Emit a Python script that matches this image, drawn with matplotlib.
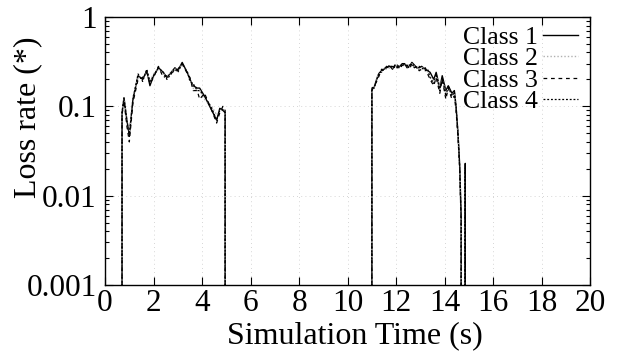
import matplotlib
matplotlib.use("Agg")
import matplotlib.pyplot as plt
from matplotlib.ticker import LogLocator, NullFormatter, FixedLocator

plt.rcParams['font.family'] = ['Liberation Serif', 'DejaVu Serif']

# time axis (s), same sampling for all classes
t = [0.6, 0.7, 0.78, 0.9, 1.0, 1.15, 1.36, 1.55, 1.72, 1.85,
     2.0, 2.2, 2.4, 2.55, 2.88, 3.0, 3.18, 3.4, 3.5, 3.63,
     3.8, 3.9, 4.1, 4.4, 4.6, 4.73, 4.86, 4.95, 5.0,
     10.9, 11.0, 11.1, 11.2, 11.3, 11.4, 11.5, 11.6, 11.75, 11.85,
     11.95, 12.05, 12.15, 12.25, 12.35, 12.45, 12.55, 12.65, 12.75, 12.85,
     12.95, 13.05, 13.2, 13.3, 13.4, 13.55, 13.65, 13.8, 13.9, 14.05,
     14.15, 14.3, 14.4, 14.47, 14.55, 14.62, 14.68, 14.74, 14.8, 14.85,
     14.93]

class1 = [0, 0.085, 0.125, 0.07, 0.048, 0.12, 0.22, 0.2, 0.25, 0.17,
          0.22, 0.27, 0.24, 0.21, 0.27, 0.25, 0.31, 0.235, 0.2, 0.17,
          0.16, 0.16, 0.13, 0.09, 0.07, 0.095, 0.09, 0.085, 0,
          0, 0.16, 0.165, 0.2, 0.235, 0.25, 0.26, 0.27, 0.28, 0.26,
          0.29, 0.27, 0.28, 0.3, 0.3, 0.27, 0.28, 0.31, 0.29, 0.27,
          0.27, 0.28, 0.26, 0.25, 0.24, 0.2, 0.24, 0.16, 0.22, 0.15,
          0.17, 0.14, 0.15, 0.1, 0.05, 0.022, 0.006, 0, 0, 0.023,
          0]
class2 = [0, 0.09, 0.12, 0.065, 0.05, 0.13, 0.21, 0.21, 0.24, 0.19,
          0.23, 0.26, 0.23, 0.22, 0.26, 0.26, 0.29, 0.24, 0.21, 0.16,
          0.15, 0.15, 0.12, 0.1, 0.08, 0.09, 0.095, 0.09, 0,
          0, 0.155, 0.17, 0.21, 0.23, 0.24, 0.27, 0.26, 0.27, 0.27,
          0.28, 0.28, 0.27, 0.29, 0.29, 0.28, 0.27, 0.3, 0.28, 0.28,
          0.26, 0.27, 0.27, 0.24, 0.22, 0.19, 0.22, 0.17, 0.2, 0.14,
          0.16, 0.13, 0.14, 0.095, 0.045, 0.02, 0.005, 0, 0, 0.02,
          0]
class3 = [0, 0.08, 0.115, 0.06, 0.04, 0.11, 0.2, 0.21, 0.24, 0.18,
          0.21, 0.28, 0.21, 0.22, 0.25, 0.26, 0.3, 0.23, 0.21, 0.15,
          0.15, 0.12, 0.14, 0.09, 0.065, 0.085, 0.1, 0.09, 0,
          0, 0.15, 0.17, 0.19, 0.22, 0.26, 0.25, 0.28, 0.27, 0.28,
          0.27, 0.29, 0.26, 0.29, 0.28, 0.29, 0.26, 0.3, 0.27, 0.28,
          0.25, 0.26, 0.27, 0.23, 0.2, 0.17, 0.21, 0.14, 0.2, 0.12,
          0.16, 0.12, 0.13, 0.09, 0.045, 0.02, 0.005, 0, 0, 0.02,
          0]
class4 = [0, 0.085, 0.122, 0.068, 0.046, 0.12, 0.23, 0.19, 0.26, 0.19,
          0.22, 0.27, 0.24, 0.2, 0.26, 0.24, 0.3, 0.24, 0.19, 0.18,
          0.15, 0.15, 0.13, 0.095, 0.07, 0.09, 0.092, 0.085, 0,
          0, 0.16, 0.16, 0.2, 0.24, 0.24, 0.27, 0.27, 0.29, 0.27,
          0.28, 0.28, 0.29, 0.28, 0.3, 0.28, 0.29, 0.29, 0.28, 0.27,
          0.28, 0.27, 0.25, 0.26, 0.21, 0.18, 0.23, 0.15, 0.21, 0.13,
          0.17, 0.13, 0.145, 0.1, 0.05, 0.021, 0.0055, 0, 0, 0.021,
          0]

labels = ['Class 1', 'Class 2', 'Class 3', 'Class 4']
series = [class1, class2, class3, class4]
styles = [dict(color='black', ls='-', lw=1.0),
          dict(color='#b0b0b0', ls=(0, (1, 1.5)), lw=1.0),
          dict(color='black', ls=(0, (3, 3)), lw=0.9),
          dict(color='black', ls=(0, (1.5, 1.5)), lw=0.9)]

fig = plt.figure(figsize=(6.18, 3.6), dpi=100)
ax = fig.add_axes([0.170, 0.208, 0.785, 0.745])

for y, lab, st in zip(series, labels, styles):
    ax.plot(t, y, label=lab, **st)

ax.set_yscale('log', nonpositive='clip')
ax.set_xlim(0, 20)
ax.set_ylim(0.001, 1)
ax.xaxis.set_major_locator(FixedLocator(range(0, 21, 2)))
ax.yaxis.set_minor_locator(LogLocator(base=10, subs=range(2, 10)))
ax.yaxis.set_minor_formatter(NullFormatter())
ax.set_yticks([0.001, 0.01, 0.1, 1])
ax.set_yticklabels(['0.001', '0.01', '0.1', '1'])

ax.tick_params(which='both', direction='in', top=True, right=True,
               labelsize=22.5, width=0.8)
ax.tick_params(axis='x', pad=3)
ax.tick_params(axis='y', pad=6)
ax.tick_params(which='major', length=6)
ax.tick_params(which='minor', length=3)
ax.grid(True, which='major', color='#c8c8c8', ls=(0, (1, 4)), lw=0.6)
for s in ax.spines.values():
    s.set_linewidth(1.0)

ax.set_xlabel('Simulation Time (s)', fontsize=23)
ax.set_ylabel('Loss rate (*)', fontsize=23)
ax.xaxis.set_label_coords(0.515, -0.135)
ax.yaxis.set_label_coords(-0.13, 0.627)

ax.legend(loc='upper right', bbox_to_anchor=(0.975, 0.965), frameon=False,
          markerfirst=False, fontsize=18.5, handlelength=1.36, handletextpad=0.2,
          labelspacing=-0.07, borderpad=0, borderaxespad=0)

fig.savefig('out.png', dpi=100)
